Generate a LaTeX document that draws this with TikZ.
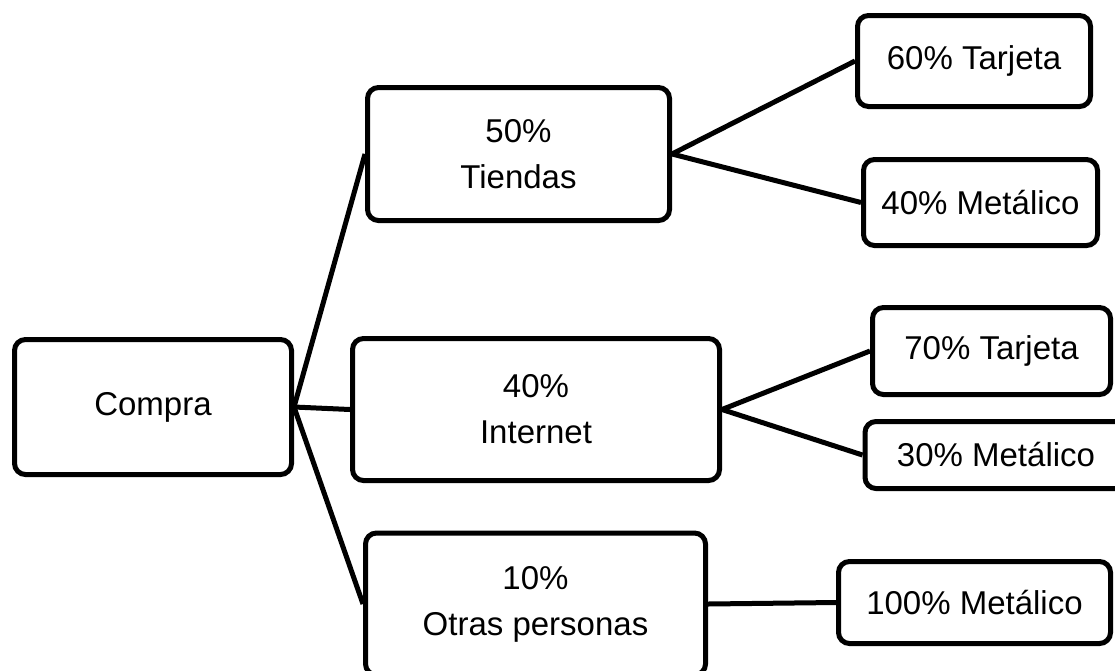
\documentclass[tikz,border=0pt]{standalone}
\usepackage{fontspec}
\setmainfont{Liberation Sans}
\begin{document}
\begin{tikzpicture}[x=1pt,y=-1pt,
  box/.style={draw=black, line width=5pt, rounded corners=11pt, fill=white,
    inner sep=0pt, align=center, font=\fontsize{33}{46}\selectfont},
  conn/.style={draw=black, line width=5pt}]
\useasboundingbox (0,0) rectangle (1115,670);
\begin{scope}
\clip (0,0) rectangle (1115,670);
% nodes
\node[box, minimum width=277pt, minimum height=135pt] (compra) at (153,407) {Compra};
\node[box, minimum width=302pt, minimum height=133pt] (tiendas) at (518.5,154) {50\%\\Tiendas};
\node[box, minimum width=367pt, minimum height=142pt] (internet) at (536,409.5) {40\%\\Internet};
\node[box, minimum width=340pt, minimum height=142pt] (otras) at (535.5,604) {10\%\\Otras personas};
\node[box, minimum width=233pt, minimum height=91pt] (t60) at (974,61) {60\% Tarjeta};
\node[box, minimum width=234pt, minimum height=86pt] (m40) at (980.5,202.5) {40\% Metálico};
\node[box, minimum width=238pt, minimum height=87pt] (t70) at (991.5,351) {70\% Tarjeta};
\node[box, minimum width=262pt, minimum height=67pt] (m30) at (996,455) {30\% Metálico};
\node[box, minimum width=272pt, minimum height=82pt] (m100) at (974.5,602.5) {100\% Metálico};
% connectors
\draw[conn] (compra.east) -- (tiendas.west);
\draw[conn] (compra.east) -- (internet.west);
\draw[conn] (compra.east) -- (otras.west);
\draw[conn] (tiendas.east) -- (t60.west);
\draw[conn] (tiendas.east) -- (m40.west);
\draw[conn] (internet.east) -- (t70.west);
\draw[conn] (internet.east) -- (m30.west);
\draw[conn] (otras.east) -- (m100.west);
\end{scope}
\end{tikzpicture}
\end{document}
